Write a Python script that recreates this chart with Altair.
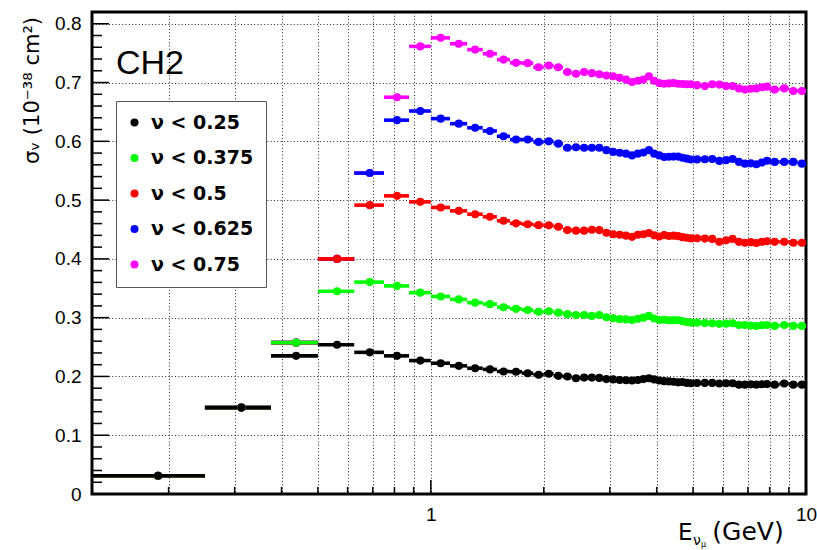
import altair as alt
import pandas as pd

# Energy bin edges (GeV): 0.125-wide up to 5 GeV, 0.25 up to 8 GeV, 0.5 up to 10 GeV
bin_edges = [0.125, 0.25, 0.375, 0.5, 0.625, 0.75, 0.875,
             1.0, 1.125, 1.25, 1.375, 1.5, 1.625, 1.75, 1.875,
             2.0, 2.125, 2.25, 2.375, 2.5, 2.625, 2.75, 2.875,
             3.0, 3.125, 3.25, 3.375, 3.5, 3.625, 3.75, 3.875,
             4.0, 4.125, 4.25, 4.375, 4.5, 4.625, 4.75, 4.875,
             5.0, 5.25, 5.5, 5.75, 6.0, 6.25, 6.5, 6.75, 7.0, 7.25, 7.5, 7.75,
             8.0, 8.5, 9.0, 9.5, 10.0]

labels = ["ν < 0.25", "ν < 0.375", "ν < 0.5", "ν < 0.625", "ν < 0.75"]
colors = ["#000000", "#00ff00", "#ff0000", "#0000ff", "#ff00ff"]

# cross section per bin, 10^-38 cm^2
sigma_nu025 = [0.031, 0.147, 0.235, 0.254, 0.241, 0.235, 0.227,
               0.2225, 0.218, 0.214, 0.212, 0.2085, 0.208, 0.2055, 0.2028,
               0.2045, 0.201, 0.1998, 0.197, 0.198, 0.198, 0.1975, 0.1955,
               0.195, 0.194, 0.1935, 0.193, 0.194, 0.1955, 0.197, 0.195,
               0.193, 0.192, 0.1915, 0.191, 0.190, 0.1905, 0.189, 0.1885,
               0.1888, 0.189, 0.189, 0.188, 0.1885, 0.1885, 0.186, 0.186,
               0.1865, 0.186, 0.1868, 0.187,
               0.186, 0.188, 0.186, 0.186]
sigma_nu0375 = [0.031, 0.147, 0.2575, 0.345, 0.3605, 0.354, 0.3425,
                0.336, 0.331, 0.3255, 0.323, 0.3178, 0.315, 0.313, 0.310,
                0.311, 0.3085, 0.306, 0.3046, 0.3046, 0.303, 0.3046, 0.3006,
                0.299, 0.2975, 0.297, 0.296, 0.298, 0.300, 0.303, 0.2985,
                0.296, 0.2965, 0.2955, 0.2958, 0.2955, 0.294, 0.2925, 0.2915,
                0.2915, 0.291, 0.2905, 0.2895, 0.2898, 0.2905, 0.2876, 0.2876,
                0.2865, 0.2858, 0.287, 0.2876,
                0.286, 0.2876, 0.286, 0.286]
sigma_nu05 = [0.031, 0.147, 0.2575, 0.400, 0.4914, 0.5072, 0.497,
              0.4875, 0.4817, 0.476, 0.4716, 0.4648, 0.4605, 0.459, 0.4574,
              0.457, 0.4546, 0.449, 0.448, 0.448, 0.4495, 0.449, 0.4444,
              0.442, 0.441, 0.4395, 0.4375, 0.441, 0.442, 0.444, 0.440,
              0.438, 0.4404, 0.439, 0.4395, 0.4387, 0.437, 0.436, 0.4348,
              0.435, 0.4345, 0.434, 0.429, 0.4315, 0.434, 0.429, 0.4274,
              0.4285, 0.427, 0.429, 0.430,
              0.429, 0.429, 0.4274, 0.4274]
sigma_nu0625 = [0.031, 0.147, 0.2575, 0.400, 0.546, 0.636, 0.6516,
                0.6386, 0.630, 0.623, 0.6176, 0.6086, 0.603, 0.603, 0.599,
                0.600, 0.596, 0.589, 0.590, 0.589, 0.589, 0.589, 0.585,
                0.582, 0.5805, 0.579, 0.576, 0.579, 0.581, 0.585, 0.579,
                0.576, 0.5734, 0.5738, 0.574, 0.574, 0.572, 0.5705, 0.569,
                0.5692, 0.5695, 0.570, 0.5667, 0.568, 0.570, 0.565, 0.562,
                0.5625, 0.561, 0.564, 0.567,
                0.565, 0.565, 0.565, 0.562]
sigma_nu075 = [0.031, 0.147, 0.2575, 0.400, 0.546, 0.675, 0.7615,
               0.776, 0.766, 0.756, 0.749, 0.739, 0.7335, 0.733, 0.726,
               0.729, 0.726, 0.718, 0.715, 0.718, 0.716, 0.714, 0.712,
               0.7105, 0.708, 0.705, 0.701, 0.703, 0.705, 0.7105, 0.703,
               0.699, 0.698, 0.6985, 0.699, 0.698, 0.6975, 0.697, 0.697,
               0.6955, 0.694, 0.697, 0.6965, 0.694, 0.694, 0.690, 0.688,
               0.6895, 0.690, 0.692, 0.693,
               0.688, 0.690, 0.6856, 0.6856]

series = [sigma_nu025, sigma_nu0375, sigma_nu05, sigma_nu0625, sigma_nu075]

# axis ticks / grid positions
y_major = [0.0, 0.1, 0.2, 0.3, 0.4, 0.5, 0.6, 0.7, 0.8]
y_minor = [round(m + k * 0.02, 2) for m in y_major for k in (1, 2, 3, 4) if m + k * 0.02 < 0.82]
x_major = [1.0]
x_minor = [0.2, 0.3, 0.4, 0.5, 0.6, 0.7, 0.8, 0.9, 2, 3, 4, 5, 6, 7, 8, 9]
x_grid = x_minor[:8] + [1.0] + x_minor[8:] + [10.0]

X_DOMAIN = [0.125, 10.0]
Y_DOMAIN = [0.0, 0.82]

rows = []
# highest cut drawn first so the lower cuts sit on top where they coincide
for label, values in reversed(list(zip(labels, series))):
    assert len(values) == len(bin_edges) - 1
    for i, v in enumerate(values):
        lo, hi = bin_edges[i], bin_edges[i + 1]
        rows.append({"cut": label, "lo": lo, "hi": hi, "E": (lo + hi) / 2, "sigma": v})
df = pd.DataFrame(rows)

xscale = alt.Scale(type="log", domain=X_DOMAIN, nice=False)
yscale = alt.Scale(domain=Y_DOMAIN, nice=False, zero=False)
cscale = alt.Scale(domain=labels, range=colors)

x_axis = alt.Axis(values=x_grid, title=None, ticks=False, domain=False,
                  labelExpr="datum.value == 1 ? '1' : (datum.value == 10 ? '10' : '')",
                  labelFlush=False, labelOverlap=False, labelPadding=11,
                  grid=True)
y_axis = alt.Axis(values=y_major, title=None, ticks=False, domain=False,
                  format=".1~f", labelPadding=11, grid=True)

base = alt.Chart(df)

bars = base.mark_rule(strokeWidth=3.6).encode(
    x=alt.X("lo:Q", scale=xscale, axis=x_axis),
    x2="hi:Q",
    y=alt.Y("sigma:Q", scale=yscale, axis=y_axis),
    color=alt.Color("cut:N", scale=cscale, legend=None),
)

points = base.mark_point(filled=True, size=66, opacity=1, shape="circle").encode(
    x=alt.X("E:Q", scale=xscale, axis=None),
    y=alt.Y("sigma:Q", scale=yscale, axis=None),
    color=alt.Color("cut:N", scale=cscale, sort=labels,
                    legend=alt.Legend(title=None, orient="none", legendX=24, legendY=89)),
)

ytick_major = alt.Chart(pd.DataFrame({"sigma": y_major})).mark_rule(
    color="black", strokeWidth=1.5).encode(
    y=alt.Y("sigma:Q", scale=yscale, axis=None), x=alt.value(0), x2=alt.value(17))
ytick_minor = alt.Chart(pd.DataFrame({"sigma": y_minor})).mark_rule(
    color="black", strokeWidth=1.5).encode(
    y=alt.Y("sigma:Q", scale=yscale, axis=None), x=alt.value(0), x2=alt.value(10))
xtick_major = alt.Chart(pd.DataFrame({"E": x_major})).mark_rule(
    color="black", strokeWidth=1.5).encode(
    x=alt.X("E:Q", scale=xscale, axis=None), y=alt.value(482), y2=alt.value(468))
xtick_minor = alt.Chart(pd.DataFrame({"E": x_minor})).mark_rule(
    color="black", strokeWidth=1.5).encode(
    x=alt.X("E:Q", scale=xscale, axis=None), y=alt.value(482), y2=alt.value(475))

def label_text(txt, x, y, size, font="DejaVu Sans", align="left", baseline="alphabetic",
               angle=0, weight="normal"):
    return alt.Chart(pd.DataFrame({"t": [txt]})).mark_text(
        font=font, fontSize=size, align=align, baseline=baseline, angle=angle,
        fontWeight=weight, color="black").encode(
        text="t:N", x=alt.value(x), y=alt.value(y))

ch2 = label_text("CH2", 24, 62, 34, font="Liberation Sans")
ytitle = label_text("σᵥ (10⁻³⁸ cm²)", -59, 5, 21, align="right", baseline="middle", angle=270)
xt_e = label_text("E", 586, 528, 23)
xt_nu = label_text("ν", 601, 533, 14)
xt_mu = label_text("μ", 609, 535, 8)
xt_gev = label_text("(GeV)", 656, 528, 25, align="center")

chart = alt.layer(
    bars, points, ytick_major, ytick_minor, xtick_major, xtick_minor,
    ch2, ytitle, xt_e, xt_nu, xt_mu, xt_gev,
).resolve_axis(
    x="independent", y="independent",
).resolve_legend(
    color="independent",
).properties(
    width=714, height=482,
    padding={"left": 92, "top": 12, "right": 11, "bottom": 56},
    autosize=alt.AutoSizeParams(type="none"),
    background="white",
).configure(
    font="Liberation Sans",
).configure_view(
    stroke="black", strokeWidth=3, fill="white",
).configure_axis(
    labelFont="Liberation Sans", labelFontSize=19, labelColor="black",
    gridColor="black", gridDash=[1, 2.3], gridWidth=1, gridOpacity=0.85,
).configure_legend(
    padding=12, fillColor="white", strokeColor="#555555", strokeWidth=1,
    cornerRadius=0, symbolType="circle", symbolSize=64, symbolStrokeWidth=0,
    symbolOffset=-3,
    labelFont="DejaVu Sans", labelFontWeight="bold", labelFontSize=19,
    labelColor="black", labelOffset=7, rowPadding=15.5, symbolOpacity=1,
)

chart.save("out.html", embed_options={"renderer": "svg", "actions": False})
